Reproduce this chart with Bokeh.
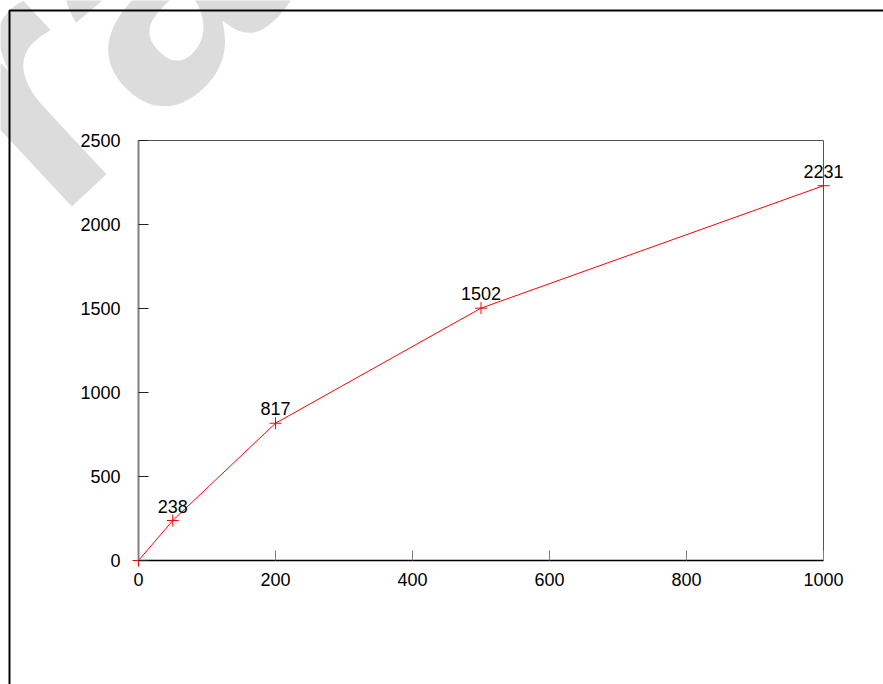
from bokeh.plotting import figure
from bokeh.models import Label, BoxAnnotation, Range1d, FixedTicker, LabelSet, ColumnDataSource
from bokeh.core.properties import value
from bokeh.embed import file_html
from bokeh.resources import INLINE

# ---- data ----
x_vals = [0, 50, 200, 500, 1000]
y_vals = [0, 238, 817, 1502, 2231]
point_labels = ["", "238", "817", "1502", "2231"]
x_ticks = [0, 200, 400, 600, 800, 1000]
y_ticks = [0, 500, 1000, 1500, 2000, 2500]
watermark_text = "Draft"

FONT = "Liberation Sans"
W, H = 883, 684
# plot box in canvas pixels
BOX_L, BOX_R, BOX_T, BOX_B = 138, 823, 140, 560
x0, x1 = x_ticks[0], x_ticks[-1]
y0, y1 = y_ticks[0], y_ticks[-1]
sx = (x1 - x0) / (BOX_R - BOX_L)   # data units per px
sy = (y1 - y0) / (BOX_B - BOX_T)

def dx(px):
    return x0 + (px - BOX_L) * sx

def dy(py):
    return y0 + (BOX_B - py) * sy

src = ColumnDataSource(dict(x=x_vals, y=y_vals, label=point_labels))

p = figure(width=W, height=H, output_backend="svg", toolbar_location=None,
           x_range=Range1d(dx(0), dx(W)), y_range=Range1d(dy(H), dy(0)),
           min_border=0)

p.background_fill_color = "white"
p.border_fill_color = "white"
p.grid.visible = False
p.outline_line_color = None

# watermark
wm = Label(x=dx(-210), y=dy(305), text=watermark_text,
           angle=43, angle_units="deg", text_font=FONT, text_font_size="345px",
           text_font_style="bold", text_color="#dcdcdc",
           text_align="left", text_baseline="alphabetic", level="image")
p.add_layout(wm)

# page frame (corner of an outer box)
page = BoxAnnotation(left=dx(9), right=dx(W + 50), top=dy(10), bottom=dy(H + 50),
                     fill_alpha=0, line_color="black", line_alpha=1, line_width=2,
                     level="overlay")
p.add_layout(page)

# plot box (top/right edges)
box = BoxAnnotation(left=x0, right=x1, bottom=y0, top=y1,
                    fill_alpha=0, line_color="#555555", line_alpha=1, line_width=1,
                    level="underlay")
p.add_layout(box)

# axes
p.xaxis.ticker = FixedTicker(ticks=x_ticks)
p.yaxis.ticker = FixedTicker(ticks=y_ticks)
p.xaxis.fixed_location = y0
p.yaxis.fixed_location = x0
p.xaxis.bounds = (x0, x1)
p.yaxis.bounds = (y0, y1)
for ax in (p.xaxis, p.yaxis):
    ax.major_tick_in = 10
    ax.major_tick_out = 0
    ax.minor_tick_line_color = None
    ax.major_label_text_font = FONT
    ax.major_label_text_font_size = "18px"
    ax.major_label_text_color = "black"
p.xaxis.axis_line_color = "black"
p.xaxis.axis_line_width = 1.5
p.xaxis.major_tick_line_color = "#808080"
p.xaxis.major_label_standoff = 12
p.yaxis.axis_line_color = "#808080"
p.yaxis.axis_line_width = 2
p.yaxis.major_tick_line_color = "#222222"
p.yaxis.major_label_standoff = 18

# series
p.line("x", "y", source=src, line_color="red", line_width=1)
p.scatter("x", "y", source=src, marker="cross", size=12, line_color="red", line_width=1)

labels = LabelSet(x="x", y="y", text="label", source=src, y_offset=8,
                  text_align="center", text_baseline="alphabetic",
                  text_font=value(FONT), text_font_size=value("18px"), text_color="black")
p.add_layout(labels)

open("out.html", "w").write(file_html(p, INLINE))
